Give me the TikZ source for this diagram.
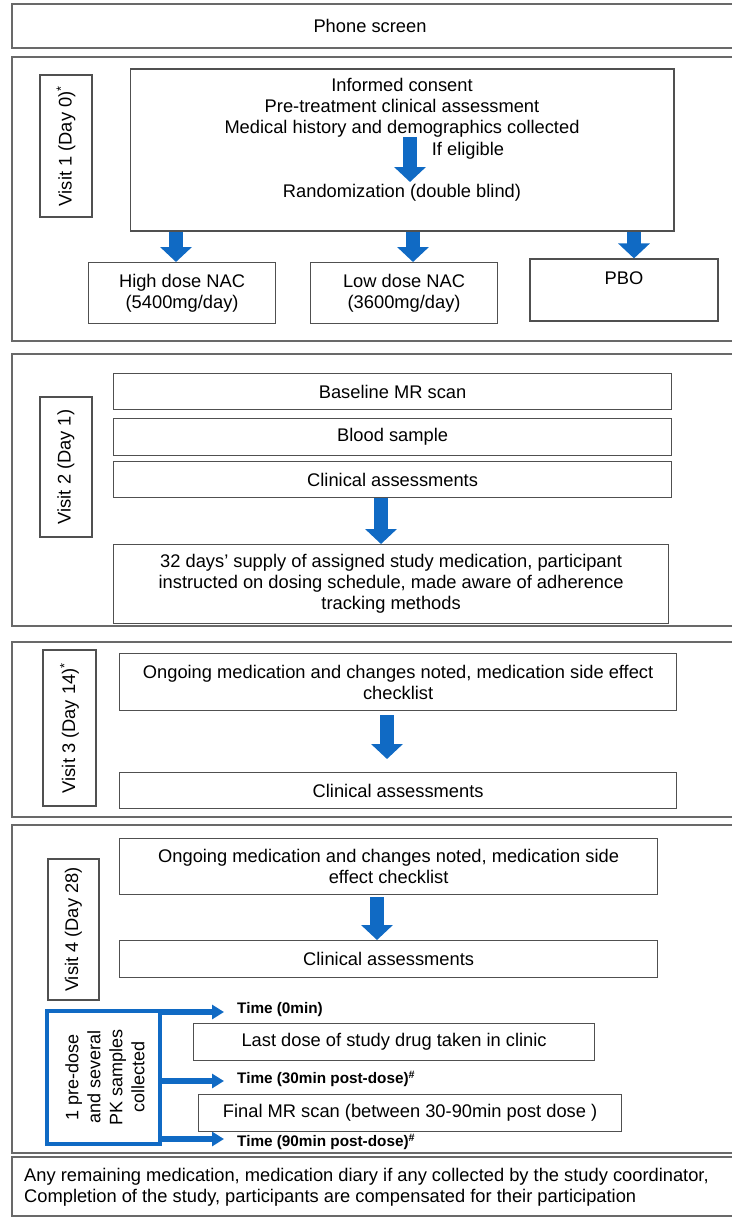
\documentclass[tikz,border=0pt]{standalone}
\usepackage{fontspec}
\setmainfont{Liberation Sans}
\usetikzlibrary{arrows.meta,fit}
\definecolor{boxgray}{RGB}{80,80,80}
\definecolor{outgray}{RGB}{105,105,105}
\definecolor{arrblue}{RGB}{16,106,196}
\newcommand\bodyfs{\fontsize{18.3}{21}\selectfont}
\newcommand\pkfs{\fontsize{18}{22}\selectfont}
\newcommand\timefs{\fontsize{15.3}{18}\selectfont\bfseries}
\begin{document}
\begin{tikzpicture}[x=1pt,y=-1pt,
 box/.style={draw=boxgray, line width=1.2pt, inner sep=0pt, font=\bodyfs, align=center},
 tbox/.style={box, anchor=north west},
 outer/.style={draw=outgray, line width=1.5pt, inner sep=0pt},
 txt/.style={inner sep=0pt, font=\bodyfs, align=center},
 vlabel/.style={draw=boxgray, line width=1.2pt, inner sep=0pt, font=\bodyfs, rotate=90},
 blockarr/.style={draw=arrblue, line width=14pt, -{Triangle[width=31pt,length=15pt]}},
 pkarr/.style={draw=arrblue, line width=5.5pt, -{Triangle[width=14pt,length=12pt]}},
 timelbl/.style={inner sep=0pt, font=\timefs, anchor=west},
]
\useasboundingbox (0,0) rectangle (731,1218);
\fill[white] (0,0) rectangle (731,1218);

% Phone screen
\node[outer, fit={(12,4) (736,48)}] (phone) {};
\node[txt] (phonetxt) at (370,26) {Phone screen};

% Visit 1
\node[outer, fit={(12,57) (736,341)}] (v1) {};
\node[vlabel, minimum width=142, minimum height=52] (v1lbl) at (66,146) {Visit 1 (Day 0)\textsuperscript{*}};
\node[box, fit={(130.5,69) (674,231)}] (main) {};
\node[txt] (consent) at (402,108) {Informed consent\\Pre-treatment clinical assessment\\Medical history and demographics collected};
\node[txt] (elig) at (468,151) {If eligible};
\node[txt] (rand) at (402,193) {Randomization (double blind)};
\coordinate (eligtop) at (410,137);
\coordinate (eligbot) at (410,182);
\draw[blockarr] (eligtop) -- (eligbot);

\node[tbox, minimum width=187, minimum height=61] (high) at (88,262) {High dose NAC\\(5400mg/day)};
\node[tbox, minimum width=187, minimum height=61] (low) at (310,262) {Low dose NAC\\(3600mg/day)};
\node[box, fit={(530,259) (718,321)}] (pbo) {};
\node[txt] (pbotxt) at (624,278) {PBO};
\draw[blockarr] (main.south -| 176,0) -- (high.north -| 176,0);
\draw[blockarr] (main.south -| 413,0) -- (low.north -| 413,0);
\draw[blockarr] (main.south -| 634,0) -- (pbo.north -| 634,0);

% Visit 2
\node[outer, fit={(12,354) (736,626)}] (v2) {};
\node[vlabel, minimum width=140, minimum height=52] (v2lbl) at (66,467) {Visit 2 (Day 1)};
\node[tbox, minimum width=558, minimum height=36] (base) at (113,373) {Baseline MR scan};
\node[tbox, minimum width=558, minimum height=37] (blood) at (113,418) {Blood sample};
\node[tbox, minimum width=558, minimum height=36] (clin2) at (113,461) {Clinical assessments};
\node[tbox, minimum width=555, minimum height=79] (supply) at (113,544) {32 days’ supply of assigned study medication, participant\\instructed on dosing schedule, made aware of adherence\\tracking methods};
\draw[blockarr] (clin2.south -| 381,0) -- (supply.north -| 381,0);

% Visit 3
\node[outer, fit={(12,642) (736,817)}] (v3) {};
\node[vlabel, minimum width=156, minimum height=53] (v3lbl) at (69.5,728) {Visit 3 (Day 14)\textsuperscript{*}};
\node[tbox, minimum width=557, minimum height=57] (ong3) at (119,653) {Ongoing medication and changes noted, medication side effect\\checklist};
\node[tbox, minimum width=557, minimum height=36] (clin3) at (119,772) {Clinical assessments};
\draw[blockarr, shorten <=4pt, shorten >=13pt] (ong3.south -| 387,0) -- (clin3.north -| 387,0);

% Visit 4
\node[outer, fit={(12,825) (736,1153)}] (v4) {};
\node[vlabel, minimum width=141, minimum height=51] (v4lbl) at (73.5,929.5) {Visit 4 (Day 28)};
\node[tbox, minimum width=538, minimum height=56] (ong4) at (119,838) {Ongoing medication and changes noted, medication side\\effect checklist};
\node[tbox, minimum width=538, minimum height=37] (clin4) at (119,940) {Clinical assessments};
\draw[blockarr, shorten <=2pt] (ong4.south -| 377,0) -- (clin4.north -| 377,0);

\node[draw=arrblue, line width=3.5pt, inner sep=0pt, fit={(47,1011) (160,1144)}] (pk) {};
\node[inner sep=0pt, font=\pkfs, align=center, rotate=90] (pktxt) at (105,1077) {1 pre-dose\\and several\\PK samples\\collected};
\coordinate (t0) at (224,1012);
\coordinate (t30) at (224,1081);
\coordinate (t90) at (224,1139);
\draw[pkarr] (pk.east |- t0) -- (t0);
\draw[pkarr] (pk.east |- t30) -- (t30);
\draw[pkarr] (pk.east |- t90) -- (t90);
\node[timelbl] (time0) at (237,1010) {Time (0min)};
\node[timelbl] (time30) at (237,1079) {Time (30min post-dose)\textsuperscript{\#}};
\node[timelbl] (time90) at (237,1142) {Time (90min post-dose)\textsuperscript{\#}};
\node[tbox, minimum width=401, minimum height=37] (last) at (193,1023) {Last dose of study drug taken in clinic};
\node[tbox, minimum width=423, minimum height=37] (finalmr) at (198,1094) {Final MR scan (between 30-90min post dose )};

% Final
\node[outer, fit={(12,1157) (736,1216)}] (final) {};
\node[txt, anchor=west, align=left] (finaltxt) at (24,1187) {Any remaining medication, medication diary if any collected by the study coordinator,\\Completion of the study, participants are compensated for their participation};
\end{tikzpicture}
\end{document}
